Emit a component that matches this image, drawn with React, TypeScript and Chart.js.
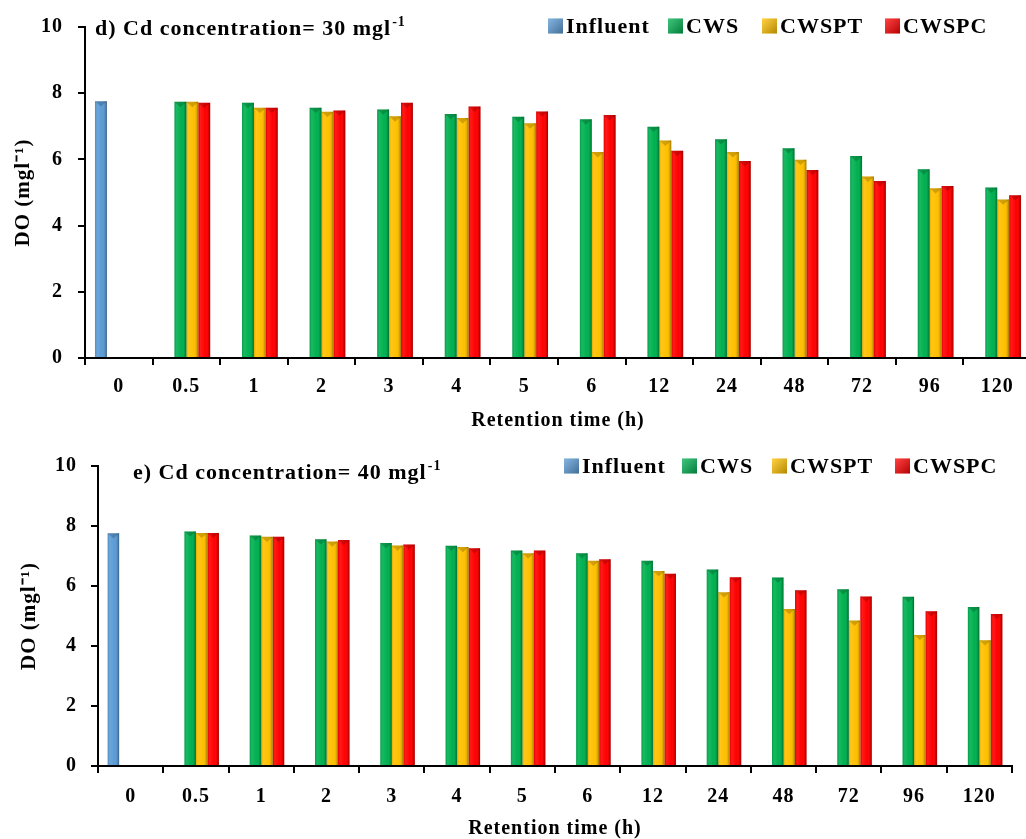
import React, { useEffect, useRef } from "react";
import { Chart, registerables } from "chart.js";

Chart.register(...registerables);

// ---------- data ----------
const categories = ["0", "0.5", "1", "2", "3", "4", "5", "6", "12", "24", "48", "72", "96", "120"];
const seriesNames = ["Influent", "CWS", "CWSPT", "CWSPC"];
const yTickValues = [0, 2, 4, 6, 8, 10];
const xAxisTitle = "Retention time (h)";
const yAxisTitle = "DO (mgl⁻¹)";

// panel d) Cd 30 mg/l
const influentD = [7.76, null, null, null, null, null, null, null, null, null, null, null, null, null];
const cwsD = [null, 7.74, 7.71, 7.56, 7.51, 7.37, 7.29, 7.21, 6.99, 6.61, 6.34, 6.10, 5.70, 5.15];
const cwsptD = [null, 7.74, 7.56, 7.44, 7.30, 7.25, 7.09, 6.22, 6.57, 6.22, 5.99, 5.48, 5.13, 4.79];
const cwspcD = [null, 7.71, 7.56, 7.48, 7.71, 7.60, 7.45, 7.34, 6.26, 5.95, 5.68, 5.35, 5.20, 4.92];

// panel e) Cd 40 mg/l
const influentE = [7.76, null, null, null, null, null, null, null, null, null, null, null, null, null];
const cwsE = [null, 7.82, 7.68, 7.56, 7.43, 7.34, 7.18, 7.09, 6.84, 6.55, 6.28, 5.89, 5.64, 5.30];
const cwsptE = [null, 7.77, 7.64, 7.48, 7.35, 7.30, 7.09, 6.84, 6.50, 5.79, 5.23, 4.85, 4.37, 4.19];
const cwspcE = [null, 7.77, 7.64, 7.53, 7.38, 7.26, 7.18, 6.89, 6.41, 6.29, 5.86, 5.65, 5.16, 5.07];

const titleD = "d) Cd concentration= 30 mgl";
const titleE = "e) Cd concentration= 40 mgl";
const titleSup = "-1";

// ---------- style ----------
const COLORS = ["#5B9BD5", "#00B050", "#FFC000", "#FF0000"];
const FONT = "'Liberation Serif', 'Times New Roman', serif";

const spacingPlugin = {
  id: "spacing",
  beforeDraw(chart: any) {
    try {
      chart.ctx.letterSpacing = "1px";
    } catch (e) {}
  },
};

const bevelPlugin = {
  id: "bevel",
  afterDatasetsDraw(chart: any) {
    const ctx = chart.ctx;
    chart.data.datasets.forEach((ds: any, i: number) => {
      const meta = chart.getDatasetMeta(i);
      meta.data.forEach((bar: any, j: number) => {
        if (ds.data[j] == null) return;
        const { x, y, base, width } = bar.getProps(["x", "y", "base", "width"], true);
        const l = x - width / 2;
        const r = x + width / 2;
        ctx.save();
        const g = ctx.createLinearGradient(l, 0, r, 0);
        g.addColorStop(0, "rgba(0,0,0,0.10)");
        g.addColorStop(0.18, "rgba(255,255,255,0.10)");
        g.addColorStop(0.6, "rgba(255,255,255,0.0)");
        g.addColorStop(0.85, "rgba(0,0,0,0.12)");
        g.addColorStop(1, "rgba(0,0,0,0.38)");
        ctx.fillStyle = g;
        ctx.fillRect(l, y, width, base - y);
        ctx.beginPath();
        ctx.moveTo(l, y);
        ctx.lineTo(r, y);
        ctx.lineTo(x, y + width * 0.45);
        ctx.closePath();
        ctx.fillStyle = "rgba(0,0,0,0.18)";
        ctx.fill();
        ctx.restore();
      });
    });
  },
};

const decorPlugin = {
  id: "decor",
  afterDraw(chart: any, _args: any, opts: any) {
    const ctx = chart.ctx;
    ctx.save();
    try {
      ctx.letterSpacing = "1px";
    } catch (e) {}
    // title with superscript
    ctx.fillStyle = "#000";
    ctx.textBaseline = "alphabetic";
    ctx.textAlign = "left";
    ctx.font = `bold 22px ${FONT}`;
    ctx.fillText(opts.title, opts.titleX, opts.titleY);
    const w = ctx.measureText(opts.title).width;
    ctx.font = `bold 14px ${FONT}`;
    ctx.fillText(titleSup, opts.titleX + w + 1, opts.titleY - 9);
    // legend
    const box = 15;
    chart.data.datasets.forEach((ds: any, i: number) => {
      const bx = opts.legendXs[i];
      const by = opts.legendY - box / 2;
      ctx.fillStyle = ds.backgroundColor;
      ctx.fillRect(bx, by, box, box);
      const g = ctx.createLinearGradient(bx, by, bx + box, by + box);
      g.addColorStop(0, "rgba(255,255,255,0.25)");
      g.addColorStop(1, "rgba(0,0,0,0.3)");
      ctx.fillStyle = g;
      ctx.fillRect(bx, by, box, box);
      ctx.fillStyle = "#000";
      ctx.font = `bold 22px ${FONT}`;
      ctx.textBaseline = "middle";
      ctx.fillText(ds.label, bx + box + 3, opts.legendY + 1);
    });
    ctx.restore();
  },
};

type Geom = {
  top: number;
  width: number;
  height: number;
  padR: number;
  padT: number;
  yW: number;
  xH: number;
  legendY: number;
  legendXs: number[];
  titleX: number;
  titleY: number;
  yTitlePad: number;
  xTitlePad: number;
  xTickPad: number;
  yTickPad: number;
};

function Panel({ series, title, geom }: { series: (number | null)[][]; title: string; geom: Geom }) {
  const ref = useRef<HTMLCanvasElement | null>(null);
  useEffect(() => {
    if (!ref.current) return;
    const chart = new Chart(ref.current, {
      type: "bar",
      data: {
        labels: categories,
        datasets: seriesNames.map((name, k) => ({
          label: name,
          data: series[k],
          backgroundColor: COLORS[k],
          borderWidth: 0,
          categoryPercentage: 0.705,
          barPercentage: 1,
        })),
      },
      options: {
        animation: false,
        responsive: false,
        devicePixelRatio: 1,
        layout: { padding: { left: 0, right: geom.padR, top: geom.padT, bottom: 0 } },
        plugins: {
          legend: { display: false },
          tooltip: { enabled: false },
          decor: {
            title,
            titleX: geom.titleX,
            titleY: geom.titleY,
            legendXs: geom.legendXs,
            legendY: geom.legendY,
          },
        } as any,
        scales: {
          x: {
            type: "category",
            offset: true,
            grid: {
              offset: true,
              drawOnChartArea: false,
              drawTicks: true,
              tickLength: 7,
              color: "#000",
              lineWidth: 2,
            },
            border: { display: true, color: "#000", width: 2 },
            ticks: {
              color: "#000",
              padding: geom.xTickPad,
              maxRotation: 0,
              autoSkip: false,
              font: { family: FONT, size: 20, weight: "bold" },
            },
            title: {
              display: true,
              text: xAxisTitle,
              color: "#000",
              font: { family: FONT, size: 20, weight: "bold", lineHeight: 1.2 },
              padding: { top: 0, bottom: geom.xTitlePad },
            },
            afterFit: (s: any) => {
              s.height = geom.xH;
            },
          },
          y: {
            min: 0,
            max: 10,
            afterBuildTicks: (s: any) => {
              s.ticks = yTickValues.map((v) => ({ value: v }));
            },
            grid: {
              drawOnChartArea: false,
              drawTicks: true,
              tickLength: 7,
              color: "#000",
              lineWidth: 2,
            },
            border: { display: true, color: "#000", width: 2 },
            ticks: {
              color: "#000",
              padding: geom.yTickPad,
              font: { family: FONT, size: 20, weight: "bold" },
            },
            title: {
              display: true,
              text: yAxisTitle,
              color: "#000",
              font: { family: FONT, size: 21, weight: "bold", lineHeight: 1.2 },
              padding: { top: geom.yTitlePad, bottom: 0 },
            },
            afterFit: (s: any) => {
              s.width = geom.yW;
            },
          },
        },
      } as any,
      plugins: [spacingPlugin, bevelPlugin, decorPlugin],
    });
    return () => chart.destroy();
  }, []);
  return (
    <canvas
      ref={ref}
      width={geom.width}
      height={geom.height}
      style={{ position: "absolute", left: 0, top: geom.top, display: "block" }}
    />
  );
}

const geomTop: Geom = {
  top: 0,
  width: 1040,
  height: 435,
  padR: 9,
  padT: 21,
  yW: 85,
  xH: 77,
  legendY: 26,
  legendXs: [548, 668, 762, 885],
  titleX: 95,
  titleY: 35,
  yTitlePad: 11,
  xTitlePad: 2,
  xTickPad: 10,
  yTickPad: 15,
};

const geomBottom: Geom = {
  top: 440,
  width: 1026,
  height: 402,
  padR: 14,
  padT: 23,
  yW: 98,
  xH: 76,
  legendY: 26,
  legendXs: [564, 682, 772, 895],
  titleX: 133,
  titleY: 39,
  yTitlePad: 17,
  xTitlePad: 1,
  xTickPad: 12,
  yTickPad: 14,
};

export default function App() {
  return (
    <div
      style={{
        position: "fixed",
        left: 0,
        top: 0,
        width: 1026,
        height: 839,
        overflow: "hidden",
        background: "#fff",
      }}
    >
      <Panel series={[influentD, cwsD, cwsptD, cwspcD]} title={titleD} geom={geomTop} />
      <Panel series={[influentE, cwsE, cwsptE, cwspcE]} title={titleE} geom={geomBottom} />
    </div>
  );
}
